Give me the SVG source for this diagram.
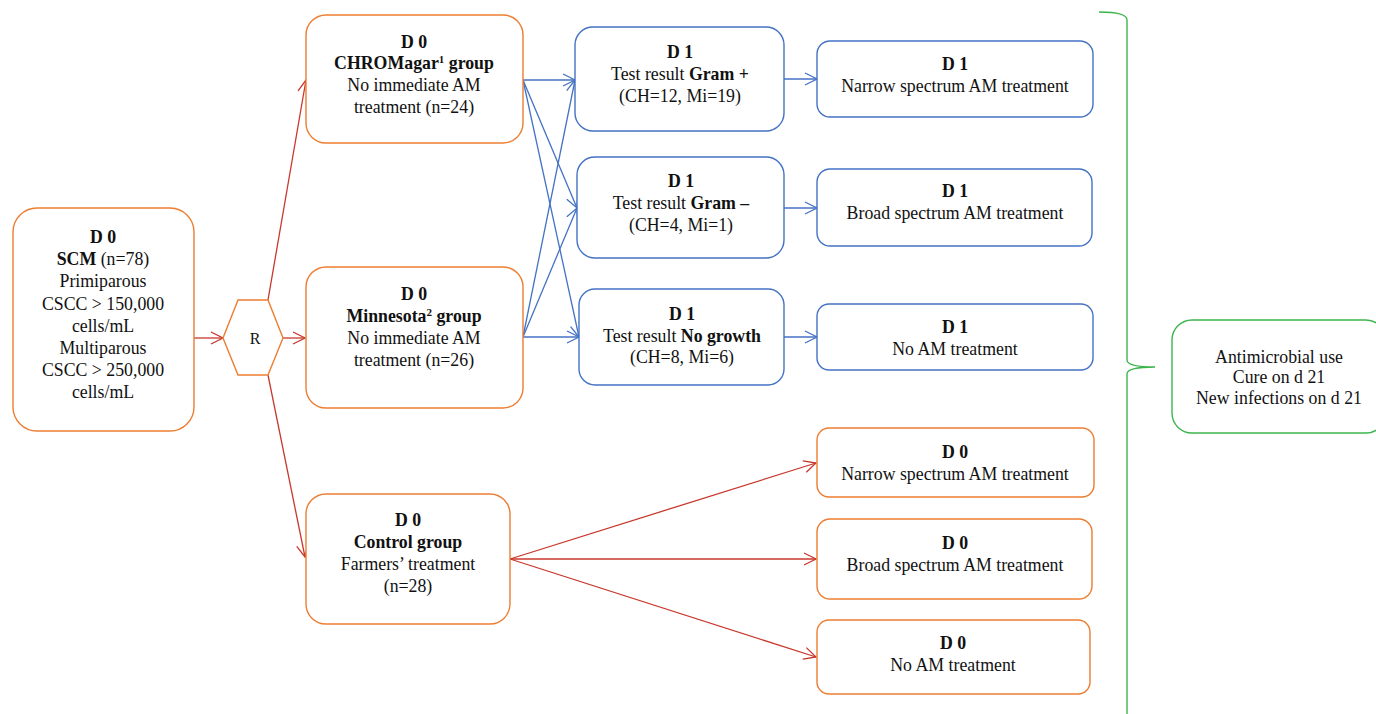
<svg xmlns="http://www.w3.org/2000/svg" width="1376" height="714" viewBox="0 0 1376 714">
<style>
text{font-size:17.8px;fill:#111;text-anchor:middle}
.b{font-weight:bold}
.o{fill:#fff;stroke:#ED7D31;stroke-width:1.4}
.bl{fill:#fff;stroke:#4472C4;stroke-width:1.4}
.g{fill:#fff;stroke:#3DB54E;stroke-width:1.4}
.r{fill:none;stroke:#C8382C;stroke-width:1.3;marker-end:url(#ar)}
.u{fill:none;stroke:#4472C4;stroke-width:1.3;marker-end:url(#au)}
.sup{font-size:11px}
</style>
<defs>
<marker id="ar" viewBox="0 0 14 14" refX="13" refY="7" markerWidth="14" markerHeight="14" orient="auto" markerUnits="userSpaceOnUse"><path d="M1,1 L13,7 L1,13" fill="none" stroke="#C8382C" stroke-width="1.3"/></marker>
<marker id="au" viewBox="0 0 14 14" refX="13" refY="7" markerWidth="14" markerHeight="14" orient="auto" markerUnits="userSpaceOnUse"><path d="M1,1 L13,7 L1,13" fill="none" stroke="#4472C4" stroke-width="1.3"/></marker>
</defs>
<rect width="1376" height="714" fill="#fff"/>
<g id="connectors">
<path class="r" d="M194,338 L223,338"/>
<path class="r" d="M283,338 L305,338"/>
<path class="r" d="M268,300 L306,80"/>
<path class="r" d="M268,375 L305,557"/>
<path class="u" d="M523,80 L575,80"/>
<path class="u" d="M523,80 L577,208"/>
<path class="u" d="M523,80 L579,337"/>
<path class="u" d="M523,337 L575,80"/>
<path class="u" d="M523,337 L577,208"/>
<path class="u" d="M523,337 L579,337"/>
<path class="u" d="M784,79 L817,79"/>
<path class="u" d="M784,208 L817,208"/>
<path class="u" d="M784,337 L817,337"/>
<path class="r" d="M510,559 L816,463"/>
<path class="r" d="M510,559 L816,559"/>
<path class="r" d="M510,559 L816,657"/>
</g>
<g id="brace">
<path d="M1099,12 Q1127,12 1127,20 L1127,360 Q1127,367 1155,367 Q1127,367 1127,374 L1127,714" fill="none" stroke="#3DB54E" stroke-width="1.4"/>
</g>
<g font-family="'Liberation Serif', 'Times New Roman', 'DejaVu Serif', serif">
<g id="scm">
<rect class="o" x="13" y="208" width="181" height="223" rx="24"/>
<text x="103" y="243" class="b">D 0</text>
<text x="103" y="265"><tspan class="b">SCM</tspan> (n=78)</text>
<text x="103" y="287">Primiparous</text>
<text x="103" y="310">CSCC &gt; 150,000</text>
<text x="103" y="332">cells/mL</text>
<text x="103" y="354">Multiparous</text>
<text x="103" y="376">CSCC &gt; 250,000</text>
<text x="103" y="398">cells/mL</text>
</g>
<g id="r">
<polygon class="o" points="223,338 238,300 268,300 283,338 268,375 238,375"/>
<text x="255" y="344" style="font-size:16px">R</text>
</g>
<g id="chromagar">
<rect class="o" x="306" y="15" width="217" height="128" rx="20"/>
<text x="414" y="48" class="b">D 0</text>
<text x="414" y="69" class="b">CHROMagar<tspan class="sup" dy="-6">1</tspan><tspan dy="6"> group</tspan></text>
<text x="414" y="91">No immediate AM</text>
<text x="414" y="113">treatment (n=24)</text>
</g>
<g id="minnesota">
<rect class="o" x="306" y="267" width="217" height="141" rx="20"/>
<text x="414" y="300" class="b">D 0</text>
<text x="414" y="322" class="b">Minnesota<tspan class="sup" dy="-6">2</tspan><tspan dy="6"> group</tspan></text>
<text x="414" y="344">No immediate AM</text>
<text x="414" y="366">treatment (n=26)</text>
</g>
<g id="control">
<rect class="o" x="306" y="494" width="204" height="130" rx="20"/>
<text x="408" y="526" class="b">D 0</text>
<text x="408" y="548" class="b">Control group</text>
<text x="408" y="570">Farmers’ treatment</text>
<text x="408" y="592">(n=28)</text>
</g>
<g id="gram-pos">
<rect class="bl" x="575" y="27" width="209" height="104" rx="18"/>
<text x="680" y="58" class="b">D 1</text>
<text x="680" y="80">Test result <tspan class="b">Gram +</tspan></text>
<text x="680" y="102">(CH=12, Mi=19)</text>
</g>
<g id="gram-neg">
<rect class="bl" x="577" y="157" width="207" height="101" rx="18"/>
<text x="681" y="187" class="b">D 1</text>
<text x="681" y="209">Test result <tspan class="b">Gram –</tspan></text>
<text x="681" y="231">(CH=4, Mi=1)</text>
</g>
<g id="no-growth">
<rect class="bl" x="579" y="289" width="205" height="96" rx="16"/>
<text x="682" y="320" class="b">D 1</text>
<text x="682" y="342">Test result <tspan class="b">No growth</tspan></text>
<text x="682" y="363">(CH=8, Mi=6)</text>
</g>
<g id="d1-narrow">
<rect class="bl" x="817" y="41" width="276" height="76" rx="13"/>
<text x="955" y="70" class="b">D 1</text>
<text x="955" y="92">Narrow spectrum AM treatment</text>
</g>
<g id="d1-broad">
<rect class="bl" x="817" y="169" width="275" height="77" rx="13"/>
<text x="955" y="197" class="b">D 1</text>
<text x="955" y="219">Broad spectrum AM treatment</text>
</g>
<g id="d1-none">
<rect class="bl" x="817" y="304" width="276" height="66" rx="12"/>
<text x="955" y="333" class="b">D 1</text>
<text x="955" y="355">No AM treatment</text>
</g>
<g id="d0-narrow">
<rect class="o" x="817" y="428" width="277" height="69" rx="12"/>
<text x="955" y="458" class="b">D 0</text>
<text x="955" y="480">Narrow spectrum AM treatment</text>
</g>
<g id="d0-broad">
<rect class="o" x="817" y="519" width="275" height="80" rx="13"/>
<text x="955" y="549" class="b">D 0</text>
<text x="955" y="571">Broad spectrum AM treatment</text>
</g>
<g id="d0-none">
<rect class="o" x="817" y="620" width="273" height="74" rx="12"/>
<text x="953" y="649" class="b">D 0</text>
<text x="953" y="671">No AM treatment</text>
</g>
<g id="outcomes">
<rect class="g" x="1172" y="320" width="214" height="113" rx="20"/>
<text x="1279" y="363">Antimicrobial use</text>
<text x="1279" y="383">Cure on d 21</text>
<text x="1279" y="404">New infections on d 21</text>
</g>
</g>
</svg>
